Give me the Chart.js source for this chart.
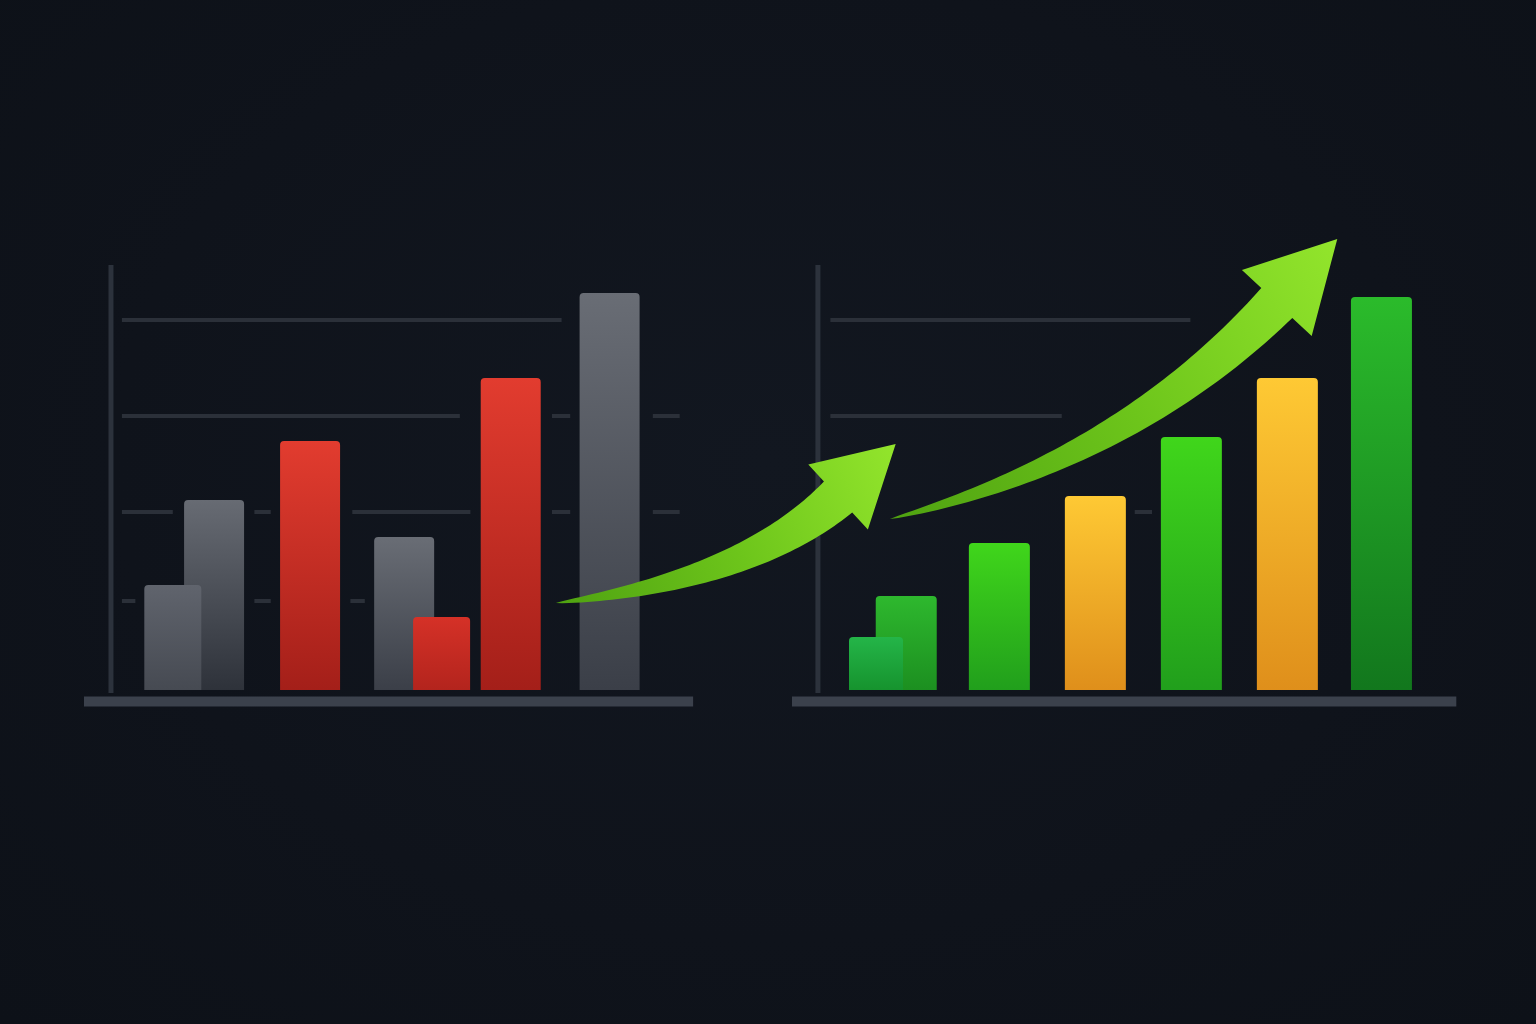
<!DOCTYPE html>
<html>
<head>
<meta charset="utf-8">
<title>Bars and growth arrows</title>
<script src="https://cdn.jsdelivr.net/npm/chart.js@4.4.1/dist/chart.umd.min.js"></script>
<style>
  html, body { margin: 0; padding: 0; }
  body {
    width: 1536px; height: 1024px; overflow: hidden;
    background: radial-gradient(ellipse at 50% 45%, #121720 0%, #0f131b 60%, #0d1118 100%);
  }
  canvas { display: block; }
</style>
</head>
<body>
<canvas id="chart" width="1536" height="1024"></canvas>
<script>
// ---- data ----
// x = slot number along the shared horizontal axis, y = bar value
const leftSlots  = [1.80, 2.23, 3.23, 4.21, 4.60, 5.32, 6.35];
const leftValues = [26.25, 47.5, 62.25, 38.25, 18.25, 78, 99.25];
const leftKinds  = ['grayFront', 'grayBack', 'red', 'gray', 'redSmall', 'red', 'gray'];
const leftFront  = [true, false, false, false, true, false, false];

const rightSlots  = [9.125, 9.44, 10.41, 11.41, 12.41, 13.41, 14.39];
const rightValues = [13.25, 23.5, 36.75, 48.5, 63.25, 78, 98.25];
const rightKinds  = ['greenFront', 'greenBack', 'green', 'yellow', 'green', 'yellow', 'greenDark'];
const rightFront  = [true, false, false, false, false, false, false];

// horizontal guide levels (value axis)
const gridLevels = [22.25, 44.5, 68.5, 92.5];

// arrows: [slot, value] for tail, bend, neck and tip
const arrows = [
  { tail: [5.79, 21.75], ctrl: [7.78, 27.5], neck: [8.73, 48.25], tip: [9.33, 61.5], neckHalf: 21, headHalf: 44 },
  { tail: [9.27, 42.75], ctrl: [11.73, 57.5], neck: [13.30, 96.75], tip: [13.93, 112.75], neckHalf: 21.5, headHalf: 48 }
];

// ---- styles ----
const palette = {
  gray:       ['#696d75', '#3b3f48'],
  grayFront:  ['#60646d', '#464a52'],
  grayBack:   ['#676b73', '#2e323a'],
  red:        ['#e23c2f', '#a41f19'],
  redSmall:   ['#d53127', '#b3241d'],
  green:      ['#40d61b', '#219f1c'],
  greenFront: ['#24b548', '#16932e'],
  greenBack:  ['#2eb82e', '#1c8f20'],
  yellow:     ['#fec934', '#df8f1b'],
  greenDark:  ['#2bbb2b', '#12771d']
};

// partial guide segments: [level index, fromSlot, toSlot]
const guideSegments = [
  [3, 1.27, 5.85], [3, 8.65, 12.40],
  [2, 1.27, 4.79], [2, 5.75, 5.94], [2, 6.80, 7.08], [2, 8.65, 11.06],
  [1, 1.27, 1.80], [1, 2.65, 2.82], [1, 3.67, 4.90], [1, 5.75, 5.94], [1, 6.80, 7.08], [1, 11.82, 12.0],
  [0, 1.27, 1.41], [0, 2.65, 2.82], [0, 3.65, 3.80]
];

function segData(list) {
  const pts = [];
  list.forEach(s => {
    const v = gridLevels[s[0]];
    pts.push({ x: s[1], y: v }, { x: s[2], y: v }, { x: s[2] + 0.001, y: null });
  });
  return pts;
}

function barDataset(slots, values, kinds, front, wantFront, width, order) {
  const pts = [], k = [];
  slots.forEach((s, i) => {
    if (front[i] === wantFront) { pts.push({ x: s, y: values[i] }); k.push(kinds[i]); }
  });
  return {
    type: 'bar',
    data: pts,
    kinds: k,
    grouped: false,
    barPercentage: 4,
    categoryPercentage: 1,
    maxBarThickness: width,
    borderRadius: 4,
    borderSkipped: 'bottom',
    order: order,
    backgroundColor: function (c) {
      const cols = palette[c.dataset.kinds[c.dataIndex]] || palette.gray;
      const chart = c.chart;
      if (!chart.chartArea || c.type !== 'data' || !c.parsed) return cols[0];
      const ys = chart.scales.y;
      const top = ys.getPixelForValue(c.parsed.y), bot = ys.getPixelForValue(0);
      const g = chart.ctx.createLinearGradient(0, top, 0, bot);
      g.addColorStop(0, cols[0]);
      g.addColorStop(1, cols[1]);
      return g;
    }
  };
}

function lineSet(data, color, width) {
  return {
    type: 'line', data: data, borderColor: color, borderWidth: width,
    pointRadius: 0, borderCapStyle: 'butt', spanGaps: false, order: 20, clip: false, tension: 0
  };
}

const arrowPlugin = {
  id: 'arrows',
  afterDatasetsDraw(chart) {
    const xs = chart.scales.x, ys = chart.scales.y, g = chart.ctx;
    const P = p => ({ x: xs.getPixelForValue(p[0]), y: ys.getPixelForValue(p[1]) });
    arrows.forEach(a => {
      const T = P(a.tail), C = P(a.ctrl), N = P(a.neck), H = P(a.tip);
      const left = [], right = [];
      const steps = 60;
      for (let i = 0; i <= steps; i++) {
        const t = i / steps, u = 1 - t;
        const px = u * u * T.x + 2 * u * t * C.x + t * t * N.x;
        const py = u * u * T.y + 2 * u * t * C.y + t * t * N.y;
        let dx = 2 * u * (C.x - T.x) + 2 * t * (N.x - C.x);
        let dy = 2 * u * (C.y - T.y) + 2 * t * (N.y - C.y);
        const len = Math.hypot(dx, dy); dx /= len; dy /= len;
        const w = a.neckHalf * Math.pow(t, 0.75);
        left.push([px - dy * w, py + dx * w]);
        right.push([px + dy * w, py - dx * w]);
      }
      let hx = H.x - N.x, hy = H.y - N.y;
      const hl = Math.hypot(hx, hy); hx /= hl; hy /= hl;
      g.save();
      g.beginPath();
      g.moveTo(left[0][0], left[0][1]);
      left.forEach(p => g.lineTo(p[0], p[1]));
      g.lineTo(N.x - hy * a.headHalf, N.y + hx * a.headHalf);
      g.lineTo(H.x, H.y);
      g.lineTo(N.x + hy * a.headHalf, N.y - hx * a.headHalf);
      for (let i = right.length - 1; i >= 0; i--) g.lineTo(right[i][0], right[i][1]);
      g.closePath();
      const grad = g.createLinearGradient(T.x, T.y, H.x, H.y);
      grad.addColorStop(0, '#4fa211');
      grad.addColorStop(0.5, '#6dc51b');
      grad.addColorStop(1, '#93e52c');
      g.fillStyle = grad;
      g.fill();
      g.restore();
    });
  }
};

new Chart(document.getElementById('chart'), {
  type: 'bar',
  data: {
    datasets: [
      barDataset(leftSlots, leftValues, leftKinds, leftFront, true, 57, 1),
      barDataset(leftSlots, leftValues, leftKinds, leftFront, false, 60, 5),
      barDataset(rightSlots, rightValues, rightKinds, rightFront, true, 54, 1),
      barDataset(rightSlots, rightValues, rightKinds, rightFront, false, 61, 5),
      lineSet(segData(guideSegments), '#2b3039', 4),
      // value axes
      lineSet([{ x: 1.156, y: -0.75 }, { x: 1.156, y: 106.25 }, { x: 1.157, y: null },
               { x: 8.52, y: -0.75 }, { x: 8.52, y: 106.25 }], '#2c323c', 5),
      // base rails
      lineSet([{ x: 0.875, y: -2.875 }, { x: 7.22, y: -2.875 }, { x: 7.23, y: null },
               { x: 8.25, y: -2.875 }, { x: 15.17, y: -2.875 }], '#3b414c', 10)
    ]
  },
  options: {
    responsive: false,
    devicePixelRatio: 1,
    animation: false,
    events: [],
    layout: { padding: { top: 90, bottom: 294, left: 0, right: 0 } },
    plugins: { legend: { display: false }, tooltip: { enabled: false } },
    scales: {
      x: { type: 'linear', min: 0, max: 16, display: false, offset: false },
      y: { type: 'linear', min: -10, max: 150, display: false }
    }
  },
  plugins: [arrowPlugin]
});
</script>
</body>
</html>
